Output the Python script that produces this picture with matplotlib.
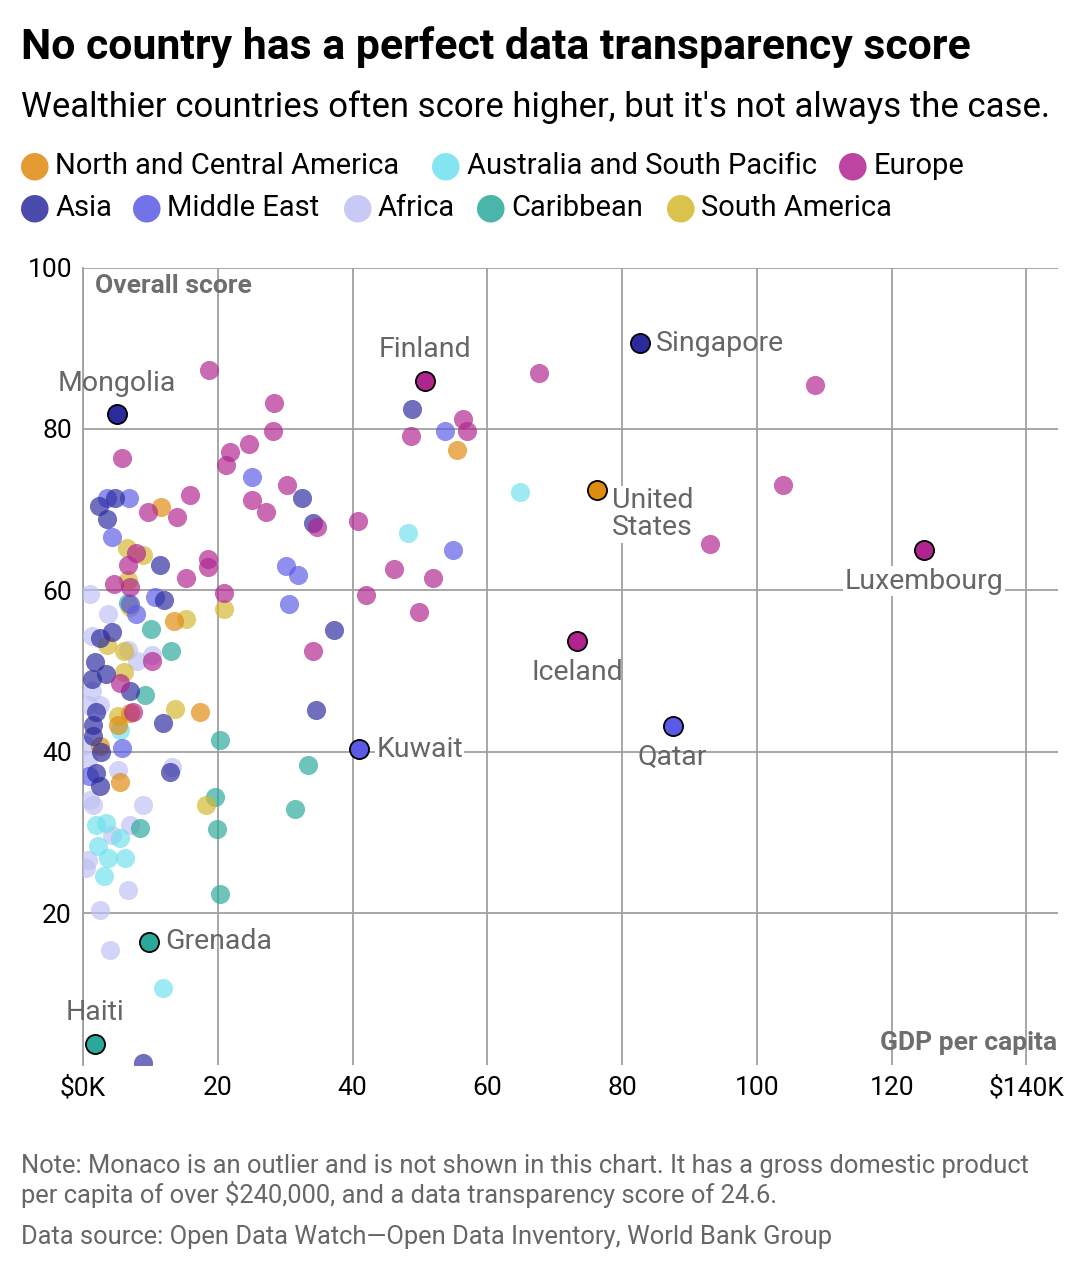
import matplotlib
matplotlib.use("Agg")
import matplotlib.pyplot as plt

plt.rcParams['font.family'] = ['Roboto', 'DejaVu Sans']

regions = ["North and Central America", "Australia and South Pacific", "Europe",
           "Asia", "Middle East", "Africa", "Caribbean", "South America"]
colors = {"North and Central America": "#e08a0e", "Australia and South Pacific": "#6fe0ee",
          "Europe": "#b0248f", "Asia": "#2b2b9e", "Middle East": "#5a5ae6",
          "Africa": "#c0c0f5", "Caribbean": "#2aa89a", "South America": "#d4b82e"}

europe_x = [50.7,18.7,28.3,28.2,56.4,57.0,48.7,67.7,108.6,103.9,93.0,124.8,73.3,21.8,24.6,21.2,15.9,13.9,25.1,27.2,30.3,34.7,40.8,46.1,52.0,49.8,42.0,34.1,20.9,18.5,18.5,15.3,5.8,9.6,7.9,6.7,7.0,4.6,10.2,5.5,7.4]
europe_y = [86.0,87.3,83.2,79.7,81.2,79.8,79.1,86.9,85.4,73.0,65.7,65.0,53.7,77.2,78.1,75.5,71.8,69.1,71.2,69.7,73.0,67.8,68.6,62.7,61.5,57.3,59.4,52.5,59.7,62.9,63.9,61.6,76.4,69.7,64.6,63.2,60.4,60.8,51.2,48.5,44.9]
nca_x = [76.3,55.5,11.6,13.5,17.4,5.2,5.5,7.0,2.5]
nca_y = [72.4,77.4,70.3,56.2,44.9,43.3,36.3,44.8,40.7]
aus_x = [64.8,48.2,11.9,1.9,3.4,2.2,3.7,6.2,3.1,5.5,5.5]
aus_y = [72.2,67.1,10.8,30.9,31.2,28.3,26.9,26.9,24.6,29.3,42.7]
asia_x = [82.6,5.0,48.8,32.5,34.1,37.3,34.6,11.9,12.9,11.4,12.0,2.4,4.7,3.6,4.3,2.5,1.8,3.4,1.3,1.9,1.5,1.5,2.7,1.9,2.5,7.0,8.9]
asia_y = [90.6,81.8,82.5,71.5,68.4,55.1,45.2,43.6,37.5,63.2,58.8,70.4,71.5,68.8,54.8,54.1,51.1,49.6,49.0,44.9,43.3,42.0,40.0,37.4,35.8,47.6,1.5]
me_x = [87.5,41.0,53.7,25.1,30.1,31.9,30.6,54.9,6.8,3.6,4.3,7.0,7.9,10.7,5.8,0.9]
me_y = [43.2,40.3,79.7,74.0,63.0,61.9,58.3,65.0,71.4,71.5,66.6,58.3,57.1,59.2,40.5,37.0]
africa_x = [1.0,1.3,3.7,6.7,10.2,8.0,1.3,0.7,0.3,0.7,1.0,1.5,5.2,8.9,13.2,7.0,6.7,2.5,4.0,0.7,0.4,4.3,2.5]
africa_y = [59.5,54.3,57.1,52.6,52.0,51.2,47.6,45.8,40.8,39.0,34.0,33.4,37.7,33.4,38.1,30.9,22.9,20.4,15.5,26.6,25.6,29.7,45.8]
carib_x = [1.8,9.8,10.1,13.1,9.2,20.3,19.6,19.9,20.3,33.4,31.5,8.5,6.7]
carib_y = [3.8,16.5,55.2,52.5,47.0,41.5,34.4,30.4,22.4,38.4,32.9,30.6,58.4]
sa_x = [6.5,8.9,6.7,7.0,15.3,20.9,3.6,6.1,6.1,13.6,18.2,5.2]
sa_y = [65.2,64.4,61.3,58.0,56.4,57.7,53.2,52.5,49.9,45.3,33.4,44.4]

data = {"Europe": (europe_x, europe_y), "North and Central America": (nca_x, nca_y),
        "Australia and South Pacific": (aus_x, aus_y), "Asia": (asia_x, asia_y),
        "Middle East": (me_x, me_y), "Africa": (africa_x, africa_y),
        "Caribbean": (carib_x, carib_y), "South America": (sa_x, sa_y)}

labeled = {"Finland": ("Europe", 50.7, 86.0), "Singapore": ("Asia", 82.6, 90.6),
           "Mongolia": ("Asia", 5.0, 81.8), "United\nStates": ("North and Central America", 76.3, 72.4),
           "Luxembourg": ("Europe", 124.8, 65.0), "Iceland": ("Europe", 73.3, 53.7),
           "Qatar": ("Middle East", 87.5, 43.2), "Kuwait": ("Middle East", 41.0, 40.3),
           "Grenada": ("Caribbean", 9.8, 16.5), "Haiti": ("Caribbean", 1.8, 3.8)}

fig = plt.figure(figsize=(10.8, 12.74), dpi=100)
ax = fig.add_axes([0.0769, 0.164, 0.9028, 0.626])
ax.set_xlim(0, 144.7)
ax.set_ylim(1.2, 100)

for r in ["Africa", "Australia and South Pacific", "Caribbean", "South America",
          "North and Central America", "Middle East", "Asia", "Europe"]:
    xs, ys = data[r]
    ax.scatter(xs, ys, s=190, color=colors[r], alpha=0.68, linewidths=0, zorder=3)

for name, (r, x, y) in labeled.items():
    ax.scatter([x], [y], s=190, color=colors[r], edgecolors="black", linewidths=1.3, zorder=5)

lab_kw = dict(fontsize=20.5, color="#666666", zorder=6)
box = dict(facecolor="white", edgecolor="none", pad=1)
ax.text(50.7, 88.2, "Finland", ha="center", va="bottom", **lab_kw)
ax.text(85.0, 90.6, "Singapore", ha="left", va="center", **lab_kw)
ax.text(5.0, 84.0, "Mongolia", ha="center", va="bottom", **lab_kw)
ax.text(78.5, 72.8, "United\nStates", ha="left", va="top", linespacing=1.0, bbox=box, **lab_kw)
ax.text(124.8, 62.8, "Luxembourg", ha="center", va="top", bbox=box, **lab_kw)
ax.text(73.3, 51.5, "Iceland", ha="center", va="top", **lab_kw)
ax.text(87.5, 41.0, "Qatar", ha="center", va="top", **lab_kw)
ax.text(43.5, 40.3, "Kuwait", ha="left", va="center", bbox=box, **lab_kw)
ax.text(12.2, 16.5, "Grenada", ha="left", va="center", **lab_kw)
ax.text(1.8, 6.0, "Haiti", ha="center", va="bottom", **lab_kw)

ax.set_xticks([0, 20, 40, 60, 80, 100, 120, 140])
ax.set_xticklabels(["$0K", "20", "40", "60", "80", "100", "120", "$140K"])
ax.set_yticks([20, 40, 60, 80, 100])
ax.grid(True, color="#a0a0a0", linewidth=1.3, zorder=0)
ax.set_axisbelow(True)
for s in ["top", "right"]:
    ax.spines[s].set_visible(False)
ax.spines["left"].set_color("#a0a0a0"); ax.spines["left"].set_linewidth(1.3)
ax.spines["bottom"].set_visible(False)
ax.tick_params(length=0, labelsize=19, colors="black", pad=8)
ax.text(1.8, 99.2, "Overall score", fontsize=19, fontweight="bold", color="#6e6e6e", va="top", ha="left")
ax.text(144.5, 2.5, "GDP per capita", fontsize=19, fontweight="bold", color="#6e6e6e", va="bottom", ha="right")

fig.text(0.019, 0.963, "No country has a perfect data transparency score", fontsize=30.8, fontweight="bold", va="center")
fig.text(0.019, 0.916, "Wealthier countries often score higher, but it's not always the case.", fontsize=25, va="center")

row1 = [("North and Central America", 0.019), ("Australia and South Pacific", 0.400), ("Europe", 0.777)]
row2 = [("Asia", 0.019), ("Middle East", 0.123), ("Africa", 0.318), ("Caribbean", 0.441), ("South America", 0.617)]
for row, yy in [(row1, 0.870), (row2, 0.837)]:
    for r, xx in row:
        fig.text(xx + 0.013, yy, "●", fontsize=26, color=colors[r], alpha=0.85, va="center", ha="center")
        fig.text(xx + 0.032, yy, r, fontsize=21, va="center", ha="left")

fig.text(0.019, 0.073, "Note: Monaco is an outlier and is not shown in this chart. It has a gross domestic product\nper capita of over $240,000, and a data transparency score of 24.6.",
         fontsize=18.4, color="#666666", va="center", linespacing=1.15)
fig.text(0.019, 0.029, "Data source: Open Data Watch\u2014Open Data Inventory, World Bank Group", fontsize=18.4, color="#666666", va="center")

fig.savefig("out.png", dpi=100, facecolor="white")
